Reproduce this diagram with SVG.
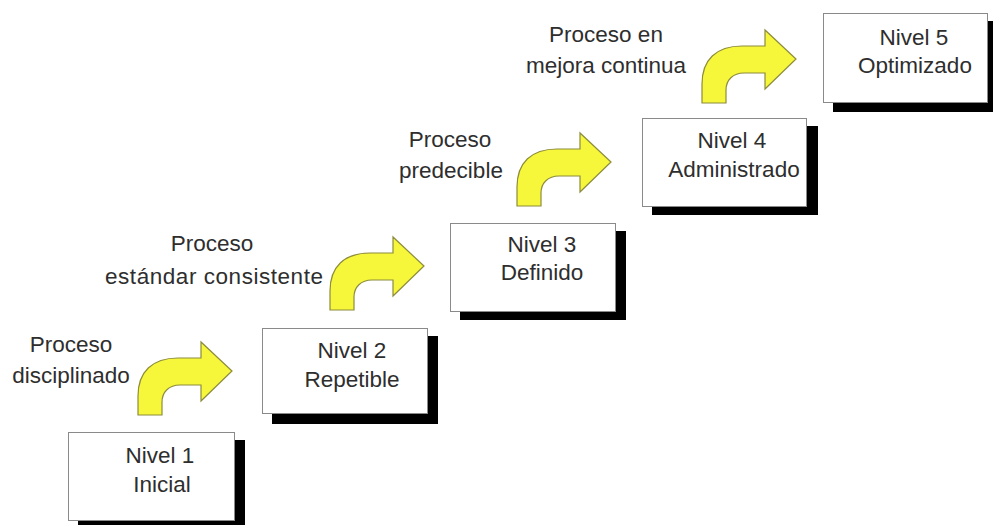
<svg xmlns="http://www.w3.org/2000/svg" width="993" height="525" viewBox="0 0 993 525">
  <defs>
    <style>
      .box { fill: #ffffff; stroke: #8a8a8a; stroke-width: 1; }
      .shadow { fill: #000000; }
      .txt { font-family: "Liberation Sans", Arial, sans-serif; font-size: 22.5px; fill: #2e2e2e; text-anchor: middle; }
      .arrow { fill: #f6f63a; stroke: #8c8c3c; stroke-width: 1.2; stroke-linejoin: miter; }
    </style>
    <path id="curvedArrow" d="M0,73 L0,54 C0,30 14,16 40,16 L63,16 L63,0 L94,29 L63,59 L63,43 L42,43 C31,43 24,50 24,60 L24,73 Z"/>
  </defs>
  <rect width="993" height="525" fill="#ffffff"/>

  <g id="connectors">
    <use href="#curvedArrow" class="arrow" transform="translate(138,342)"/>
    <use href="#curvedArrow" class="arrow" transform="translate(330,237)"/>
    <use href="#curvedArrow" class="arrow" transform="translate(517,133)"/>
    <use href="#curvedArrow" class="arrow" transform="translate(702,30)"/>
  </g>

  <g id="label1">
    <text class="txt" x="71" y="352">Proceso</text>
    <text class="txt" x="71" y="383">disciplinado</text>
  </g>
  <g id="label2">
    <text class="txt" x="212" y="251">Proceso</text>
    <text class="txt" x="214" y="284" textLength="218" lengthAdjust="spacing">estándar consistente</text>
  </g>
  <g id="label3">
    <text class="txt" x="450" y="147">Proceso</text>
    <text class="txt" x="451" y="178">predecible</text>
  </g>
  <g id="label4">
    <text class="txt" x="606" y="42">Proceso en</text>
    <text class="txt" x="606" y="73">mejora continua</text>
  </g>

  <g id="nivel1">
    <rect class="shadow" x="78" y="440" width="167" height="89"/>
    <rect class="box" x="68.5" y="432.5" width="166" height="88"/>
    <text class="txt" x="160" y="463">Nivel 1</text>
    <text class="txt" x="162" y="492">Inicial</text>
  </g>
  <g id="nivel2">
    <rect class="shadow" x="272" y="336" width="166" height="88"/>
    <rect class="box" x="262.5" y="328.5" width="165" height="85"/>
    <text class="txt" x="352" y="358">Nivel 2</text>
    <text class="txt" x="352" y="387">Repetible</text>
  </g>
  <g id="nivel3">
    <rect class="shadow" x="460" y="231" width="166" height="89"/>
    <rect class="box" x="450.5" y="223.5" width="165" height="88"/>
    <text class="txt" x="542" y="252">Nivel 3</text>
    <text class="txt" x="542" y="280">Definido</text>
  </g>
  <g id="nivel4">
    <rect class="shadow" x="652" y="126" width="166" height="89"/>
    <rect class="box" x="642.5" y="118.5" width="164" height="88"/>
    <text class="txt" x="732" y="148">Nivel 4</text>
    <text class="txt" x="734" y="177">Administrado</text>
  </g>
  <g id="nivel5">
    <rect class="shadow" x="833" y="21" width="166" height="91"/>
    <rect class="box" x="823.5" y="13.5" width="164" height="89"/>
    <text class="txt" x="914" y="45">Nivel 5</text>
    <text class="txt" x="915" y="73">Optimizado</text>
  </g>
</svg>
